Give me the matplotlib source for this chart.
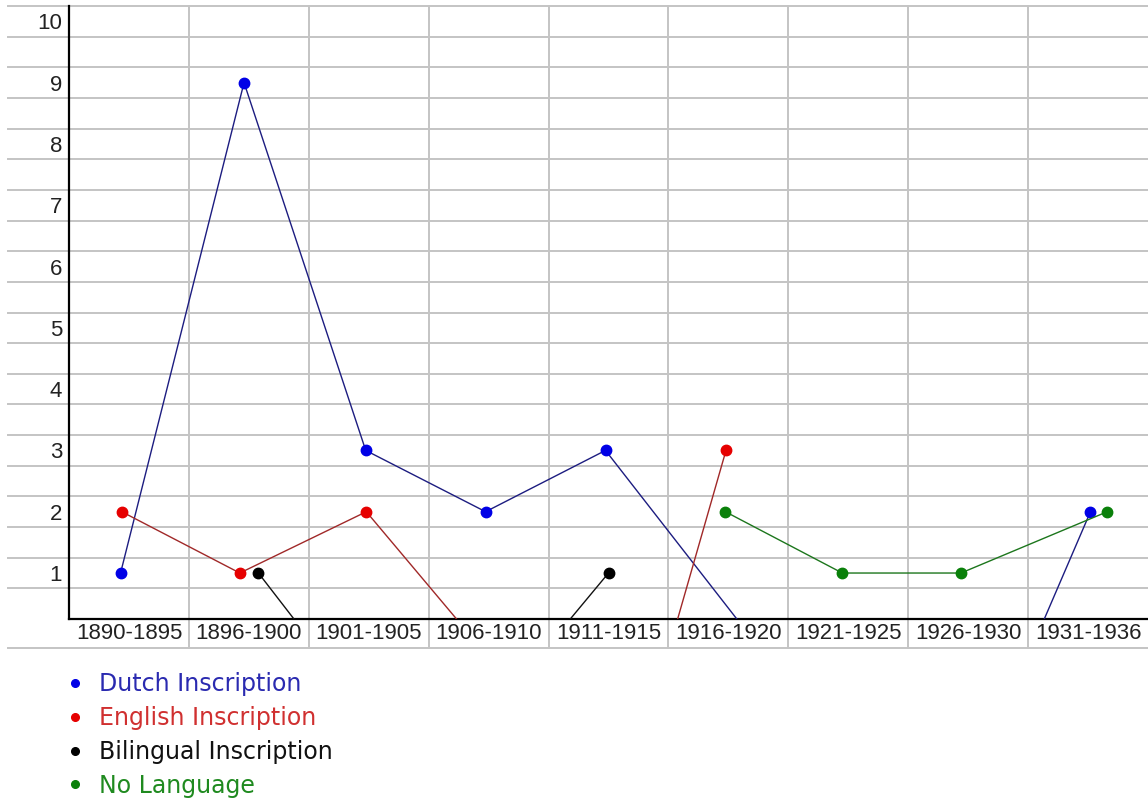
import matplotlib
matplotlib.use("Agg")
import matplotlib.pyplot as plt
from matplotlib.lines import Line2D

# categories on the x axis (one cell per period)
periods = ["1890-1895", "1896-1900", "1901-1905", "1906-1910", "1911-1915",
           "1916-1920", "1921-1925", "1926-1930", "1931-1936"]

# each series: position along the period axis (0 = first period) and count
dutch_x = [-0.07, 0.96, 1.975, 2.975, 3.975, 5.17, 7.58, 8.02]
dutch_y = [1, 9, 3, 2, 3, 0, 0, 2]

english_x = [-0.06, 0.925, 1.98, 2.84, 4.54, 4.98]
english_y = [2, 1, 2, 0, 0, 3]

bilingual_x = [1.08, 1.475, 3.575, 4.0]
bilingual_y = [1, 0, 0, 1]

nolang_x = [4.975, 5.95, 6.94, 8.16]
nolang_y = [2, 1, 1, 2]

y_ticks = list(range(1, 11))

W, H = 1148, 800
fig = plt.figure(figsize=(W / 100, H / 100), dpi=100)
fig.patch.set_facecolor("white")

# plot area in pixels: left 69, right 1148, top 6, bottom 619
ax = fig.add_axes([69 / W, 1 - 619 / H, (W - 69) / W, (619 - 6) / H])
ax.set_xlim(-0.5, len(periods) - 0.5)
ax.set_ylim(0.25, 10.25)

grid_col = "#c4c4c4"
left_ext = -61 / (W - 69)          # grid runs into the label column
below_ext = -29 / (619 - 6)        # and down through the label row

# horizontal grid, half a unit off the integer labels
g = 0.75
while g <= 10.26:
    ax.axhline(g, xmin=left_ext, xmax=1, color=grid_col, lw=1.4,
               clip_on=False, zorder=0)
    g += 0.5
# line under the period labels
ax.axhline(0.25 - 29 / 61.3, xmin=left_ext, xmax=1, color=grid_col, lw=1.4,
           clip_on=False, zorder=0)
# vertical grid between the periods
for i in range(len(periods) - 1):
    ax.axvline(i + 0.5, ymin=below_ext, ymax=1, color=grid_col, lw=1.4,
               clip_on=False, zorder=0)

# the series
ax.plot(dutch_x, dutch_y, color="#1c1c80", lw=1.0, marker="o", ms=7.5,
        mfc="#0000e6", mec="#0000e6", zorder=3)
ax.plot(english_x, english_y, color="#a02828", lw=1.0, marker="o", ms=7.5,
        mfc="#e60000", mec="#e60000", zorder=3)
ax.plot(bilingual_x, bilingual_y, color="#111111", lw=1.0, marker="o", ms=7.5,
        mfc="black", mec="black", zorder=3)
ax.plot(nolang_x, nolang_y, color="#1c761c", lw=1.0, marker="o", ms=7.5,
        mfc="#0a800a", mec="#0a800a", zorder=3)

# axes styling
for s in ["top", "right"]:
    ax.spines[s].set_visible(False)
for s in ["left", "bottom"]:
    ax.spines[s].set_color("black")
    ax.spines[s].set_linewidth(1.6)

ax.set_xticks(range(len(periods)))
ax.set_xticklabels(periods, fontsize=16, family="Liberation Sans", color="#222222")
ax.set_yticks(y_ticks)
ax.set_yticklabels([str(v) for v in y_ticks], fontsize=16,
                   family="Liberation Sans", color="#222222")
ax.tick_params(axis="x", length=0, pad=3)
ax.tick_params(axis="y", length=0, pad=5)

# legend below the chart, text coloured like the series
names = ["Dutch Inscription", "English Inscription", "Bilingual Inscription",
         "No Language"]
colors = ["#0000e6", "#e60000", "black", "#0a800a"]
text_colors = ["#2a2ab0", "#d03030", "#111111", "#1f8a1f"]
handles = [Line2D([], [], ls="none", marker="o", ms=5.5, mfc=c, mec=c)
           for c in colors]
ax.legend(handles, names, loc="upper left",
          bbox_to_anchor=(68 / W, 1 - 672 / H), bbox_transform=fig.transFigure,
          frameon=False, borderpad=0, borderaxespad=0, handlelength=0.6,
          handletextpad=0.7, labelspacing=0.42,
          prop={"family": "DejaVu Sans", "size": 17}, labelcolor=text_colors)

fig.savefig("out.png", dpi=100, facecolor="white")
